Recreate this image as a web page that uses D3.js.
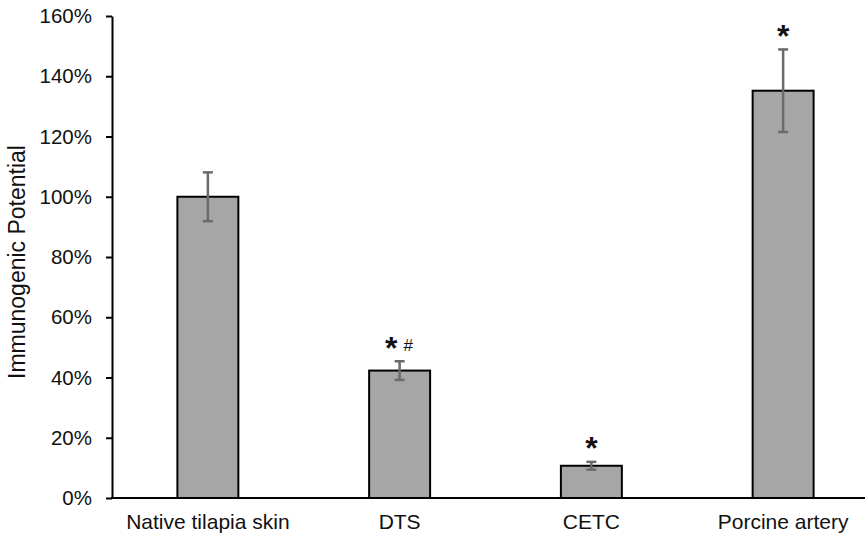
<!DOCTYPE html>
<html>
<head>
<meta charset="utf-8">
<script src="https://cdn.jsdelivr.net/npm/d3@7/dist/d3.min.js"></script>
<style>
  html, body { margin: 0; padding: 0; background: #fff; }
  svg { display: block; }
  text { font-family: "Liberation Sans", Arial, sans-serif; fill: #111; }
</style>
</head>
<body>
<svg id="chart" width="865" height="535"></svg>
<script>
// Immunogenic potential relative to native tilapia skin
const categories = ["Native tilapia skin", "DTS", "CETC", "Porcine artery"];
const values = [1.00, 0.423, 0.107, 1.352];
const errors = [0.081, 0.031, 0.013, 0.137];
const marks = ["", "*#", "*", "*"];
const yTicks = [0, 0.2, 0.4, 0.6, 0.8, 1.0, 1.2, 1.4, 1.6];
const yTitle = "Immunogenic Potential";

(function draw() {
  const svg = d3.select("#chart");
  const plotLeft = 112, plotTop = 16, plotBottom = 498, plotRight = 879;

  const x = d3.scaleBand()
    .domain(categories)
    .range([plotLeft, plotRight])
    .paddingInner(0.682)
    .paddingOuter(0.341);

  const y = d3.scaleLinear().domain([0, 1.6]).range([plotBottom, plotTop]);

  // bars
  svg.append("g").selectAll("rect")
    .data(categories)
    .join("rect")
    .attr("x", d => x(d))
    .attr("y", (d, i) => y(values[i]))
    .attr("width", x.bandwidth())
    .attr("height", (d, i) => y(0) - y(values[i]))
    .attr("fill", "#a6a6a6")
    .attr("stroke", "#000")
    .attr("stroke-width", 2);

  // error bars
  const eb = svg.append("g").attr("stroke", "#6b6b6b").attr("stroke-width", 2.5);
  categories.forEach((c, i) => {
    const cx = x(c) + x.bandwidth() / 2;
    const y1 = y(values[i] + errors[i]), y0 = y(values[i] - errors[i]);
    eb.append("line").attr("x1", cx).attr("x2", cx).attr("y1", y1).attr("y2", y0);
    eb.append("line").attr("x1", cx - 5).attr("x2", cx + 5).attr("y1", y1).attr("y2", y1);
    eb.append("line").attr("x1", cx - 5).attr("x2", cx + 5).attr("y1", y0).attr("y2", y0);
  });

  // y axis
  const yAxis = d3.axisLeft(y)
    .tickValues(yTicks)
    .tickFormat(d3.format(".0%"))
    .tickSize(6)
    .tickSizeOuter(0)
    .tickPadding(14);
  const ya = svg.append("g").attr("transform", `translate(${plotLeft},0)`).call(yAxis);
  ya.select(".domain").attr("stroke", "#000").attr("stroke-width", 2);
  ya.selectAll(".tick line").attr("stroke", "#000").attr("stroke-width", 2);
  ya.selectAll(".tick text")
    .style("font-size", "20.5px")
    .style("font-family", "'Liberation Sans', Arial, sans-serif")
    .attr("fill", "#111");

  // x axis
  const xAxis = d3.axisBottom(x).tickSize(0).tickSizeOuter(0).tickPadding(16.4);
  const xa = svg.append("g").attr("transform", `translate(0,${plotBottom})`).call(xAxis);
  xa.select(".domain").attr("stroke", "#000").attr("stroke-width", 2)
    .attr("d", `M${plotLeft - 1},0H${plotRight}`);
  xa.selectAll(".tick text")
    .style("font-size", "21px")
    .style("font-family", "'Liberation Sans', Arial, sans-serif")
    .attr("fill", "#111");

  // y title
  svg.append("text")
    .attr("transform", `translate(25,262) rotate(-90)`)
    .attr("text-anchor", "middle")
    .style("font-size", "23px")
    .text(yTitle);

  // significance marks above the error bars
  const starSize = 32, hashSize = 17;
  categories.forEach((c, i) => {
    const glyphs = marks[i].split("");
    if (!glyphs.length) return;
    const cx = x(c) + x.bandwidth() / 2;
    const cy = y(values[i] + errors[i]) - 16;
    const gap = 17;
    glyphs.forEach((g, k) => {
      const gx = cx + (k - (glyphs.length - 1) / 2) * gap;
      const isStar = g === "*";
      const s = isStar ? starSize : hashSize;
      const base = cy + (isStar ? 0.42 : 0.36) * s;
      svg.append("text")
        .attr("x", gx).attr("y", base)
        .attr("text-anchor", "middle")
        .style("font-size", s + "px")
        .style("font-weight", isStar ? "bold" : "normal")
        .attr("fill", "#000")
        .text(g);
    });
  });
})();
</script>
</body>
</html>
